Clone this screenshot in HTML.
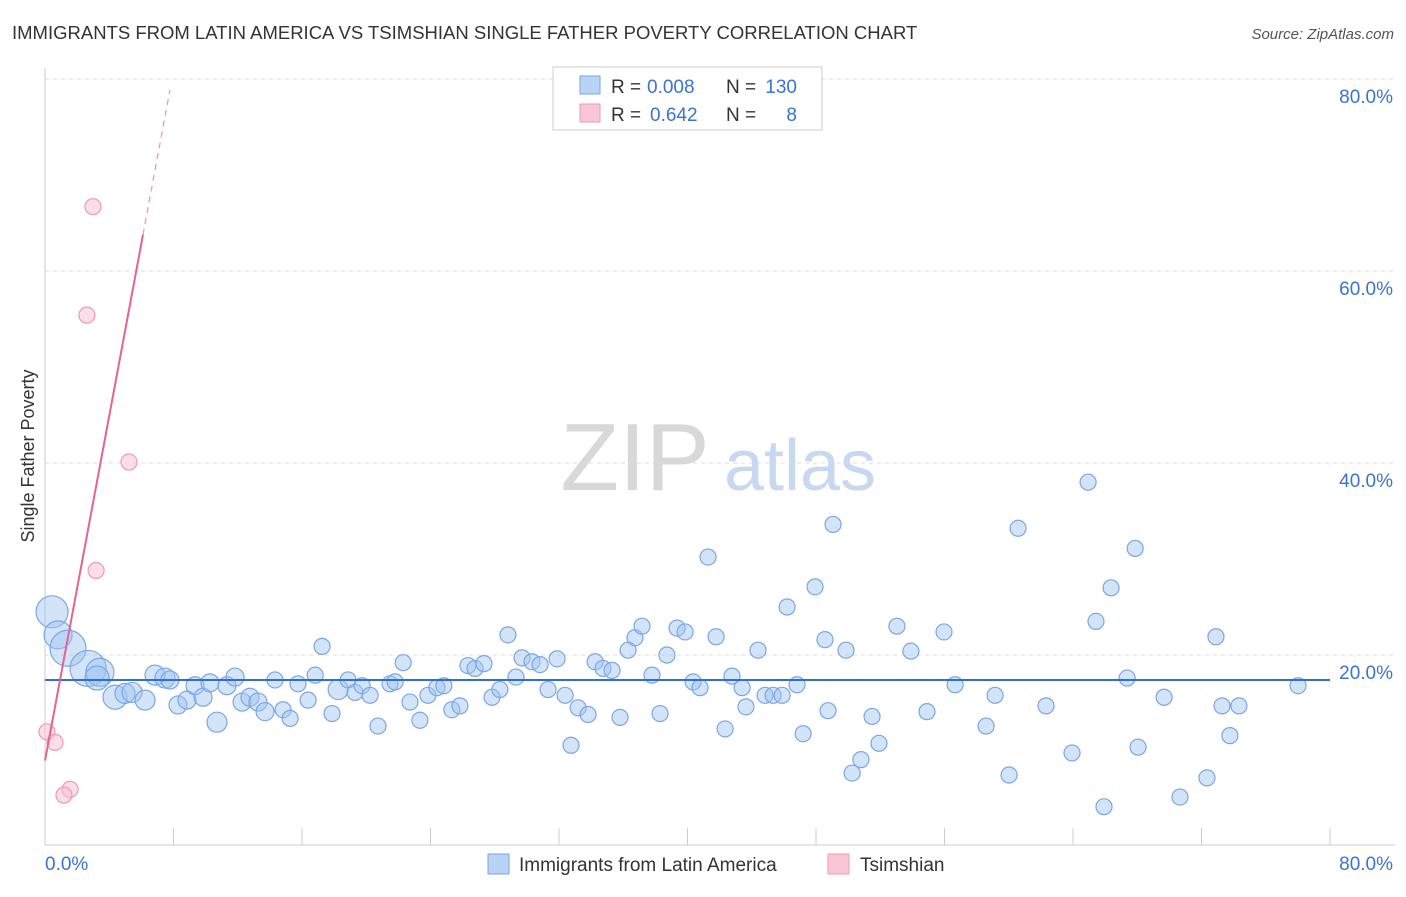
<!DOCTYPE html>
<html><head><meta charset="utf-8"><style>
body{margin:0;background:#fff;font-family:"Liberation Sans",sans-serif;}
svg text{font-family:"Liberation Sans",sans-serif;}
</style></head><body>
<svg id="chart" width="1406" height="892" xmlns="http://www.w3.org/2000/svg">
<text x="12" y="39" font-size="18.5" fill="#333">IMMIGRANTS FROM LATIN AMERICA VS TSIMSHIAN SINGLE FATHER POVERTY CORRELATION CHART</text>
<text x="1394" y="39" font-size="15" fill="#555" font-style="italic" text-anchor="end">Source: ZipAtlas.com</text>
<text x="34" y="456" font-size="18" fill="#333" text-anchor="middle" transform="rotate(-90 34 456)">Single Father Poverty</text>
<g>
<text x="635" y="490" font-size="96" fill="#d8d8d8" font-family="Liberation Serif" text-anchor="middle">ZIP</text>
<text x="800" y="490" font-size="72" fill="#c8d8f0" text-anchor="middle">atlas</text>
</g>
<g id="grid"></g>
<g id="axes"></g>
<g id="points"></g>
<g id="lines"></g>
<g>
<rect x="553" y="67" width="269" height="63" fill="#fff" stroke="#ccc"/>
<rect x="580" y="76" width="20" height="18" fill="#b8d3f5" stroke="#7aa6e6"/>
<rect x="580" y="104" width="20" height="18" fill="#f9c6d6" stroke="#ee99b4"/>
<text x="611" y="93" font-size="19" fill="#333">R =</text>
<text x="647" y="93" font-size="19" fill="#3a74d0">0.008</text>
<text x="726" y="93" font-size="19" fill="#333">N =</text>
<text x="797" y="93" font-size="19" fill="#3a74d0" text-anchor="end">130</text>
<text x="611" y="121" font-size="19" fill="#333">R =</text>
<text x="650" y="121" font-size="19" fill="#3a74d0">0.642</text>
<text x="726" y="121" font-size="19" fill="#333">N =</text>
<text x="797" y="121" font-size="19" fill="#3a74d0" text-anchor="end">8</text>
</g>
<g>
<rect x="488" y="854" width="21" height="20" fill="#b8d3f5" stroke="#7aa6e6"/>
<text x="519" y="871" font-size="19" fill="#333">Immigrants from Latin America</text>
<rect x="828" y="854" width="21" height="20" fill="#f9c6d6" stroke="#ee99b4"/>
<text x="860" y="871" font-size="19" fill="#333">Tsimshian</text>
</g>
</svg>
<script>
const yTicks=[20,40,60,80];
const yTickLabels=["20.0%","40.0%","60.0%","80.0%"];
const xTickLabels=["0.0%","80.0%"];
const blueX=[0.44,0.81,1.43,2.68,3.42,3.24,4.36,4.98,5.42,6.23,6.85,7.47,7.78,8.28,8.84,9.34,9.84,10.27,10.71,11.33,11.83,12.27,12.76,13.26,13.7,14.32,14.82,15.26,15.75,16.38,16.82,17.25,17.87,18.25,18.87,19.3,19.74,20.24,20.73,21.48,21.8,22.3,22.72,23.34,23.84,24.4,24.83,25.33,25.83,26.33,26.77,27.33,27.83,28.32,28.82,29.32,29.7,30.32,30.82,31.32,31.88,32.38,32.75,33.19,33.81,34.25,34.74,35.3,35.8,36.3,36.73,37.17,37.79,38.29,38.72,39.35,39.85,40.35,40.78,41.28,41.78,42.34,42.77,43.4,43.64,44.39,44.83,45.33,45.89,46.2,46.82,47.2,47.94,48.56,48.75,49.06,49.87,50.25,50.8,51.49,51.92,53.04,53.91,54.91,55.97,56.66,58.59,59.15,60.02,60.58,62.32,63.94,64.94,65.43,65.93,66.37,67.37,67.87,68.05,69.67,70.66,72.34,72.9,73.28,73.77,74.33,78.01];
const blueY=[24.5,22.1,20.7,18.6,18.2,17.6,15.6,16.0,16.1,15.3,17.9,17.6,17.4,14.8,15.3,16.8,15.6,17.1,13.0,16.8,17.7,15.1,15.6,15.1,14.1,17.4,14.3,13.4,17.0,15.3,17.9,20.9,13.9,16.4,17.4,16.1,16.8,15.8,12.6,17.0,17.2,19.2,15.1,13.2,15.8,16.6,16.8,14.3,14.7,18.9,18.6,19.1,15.6,16.4,22.1,17.7,19.7,19.3,19.0,16.4,19.6,15.8,10.6,14.5,13.8,19.3,18.6,18.4,13.5,20.5,21.8,23.0,17.9,13.9,20.0,22.8,22.4,17.2,16.6,30.2,21.9,12.3,17.8,16.6,14.6,20.5,15.8,15.8,15.8,25.0,16.9,11.8,27.1,21.6,14.2,33.6,20.5,7.7,9.1,13.6,10.8,23.0,20.4,14.1,22.4,16.9,12.6,15.8,7.5,33.2,14.7,9.8,38.0,23.5,4.2,27.0,17.6,31.1,10.4,15.6,5.2,7.2,21.9,14.7,11.6,14.7,16.8];
const blueSize=[16,14,18,18,14,12,12,10,10,10,10,10,9,9,9,9,9,9,10,9,9,9,9,9,9,8,8,8,8,8,8,8,8,10];
const pinkX=[2.99,2.61,5.23,3.18,0.12,0.62,1.56,1.18];
const pinkY=[66.7,55.4,40.1,28.8,12.0,10.9,6.0,5.4];
const blueFit=[17.4,17.4];
const pinkFit={intercept:9.0,slope:8.98,solidEnd:6.1,dashEnd:7.78};
const NS="http://www.w3.org/2000/svg";
const X0=45,X1=1330,Y0=847,YTOP=79;
function sx(v){return X0+(X1-X0)*v/80;}
function sy(v){return Y0-(Y0-YTOP)*v/80;}
function mk(tag,attrs,parent){const e=document.createElementNS(NS,tag);for(const k in attrs)e.setAttribute(k,attrs[k]);document.getElementById(parent).appendChild(e);return e;}
yTicks.forEach((t,i)=>{
 const l=mk('line',{x1:45,x2:1395,y1:sy(t),y2:sy(t),stroke:'#ddd','stroke-dasharray':'4,4'},'grid');
 
 
 const tx=mk('text',{x:1393,y:sy(t)+24,'font-size':19,fill:'#3a74d0','text-anchor':'end'},'grid');
 tx.textContent=yTickLabels[i];
 
 
});
const ax=mk('line',{x1:45,x2:1395,y1:845,y2:845,stroke:'#ccc'},'axes');


const ay=mk('line',{x1:45,x2:45,y1:68,y2:845,stroke:'#ccc'},'axes');


for(let i=1;i<=10;i++){
 const t=mk('line',{x1:sx(i*8),x2:sx(i*8),y1:828,y2:845,stroke:'#ccc'},'axes');
 
 
}
const xl0=mk('text',{x:45,y:870,'font-size':19,fill:'#3a74d0'},'axes');
xl0.textContent=xTickLabels[0];


const xl1=mk('text',{x:1393,y:870,'font-size':19,fill:'#3a74d0','text-anchor':'end'},'axes');
xl1.textContent=xTickLabels[1];


blueX.forEach((x,i)=>{
 const c=mk('circle',{cx:sx(x),cy:sy(blueY[i]),r:blueSize[i]||8,fill:'rgba(160,196,240,0.45)',stroke:'#7aa6e6','stroke-width':1.2},'points');
 
 
});
pinkX.forEach((x,i)=>{
 const c=mk('circle',{cx:sx(x),cy:sy(pinkY[i]),r:8,fill:'rgba(249,190,210,0.5)',stroke:'#ee99b4','stroke-width':1.2},'points');
 
 
});
const bl=mk('line',{x1:sx(0),x2:sx(80),y1:sy(blueFit[0]),y2:sy(blueFit[1]),stroke:'#2f6fd0','stroke-width':2},'lines');


const pf=x=>pinkFit.intercept+pinkFit.slope*x;
const pl=mk('line',{x1:sx(0),x2:sx(pinkFit.solidEnd),y1:sy(pf(0)),y2:sy(pf(pinkFit.solidEnd)),stroke:'#e8628f','stroke-width':2},'lines');


const pd=mk('line',{x1:sx(pinkFit.solidEnd),x2:sx(pinkFit.dashEnd),y1:sy(pf(pinkFit.solidEnd)),y2:sy(pf(pinkFit.dashEnd)),stroke:'#ee99b4','stroke-width':1.3,'stroke-dasharray':'6,5'},'lines');


</script>
</body></html>
